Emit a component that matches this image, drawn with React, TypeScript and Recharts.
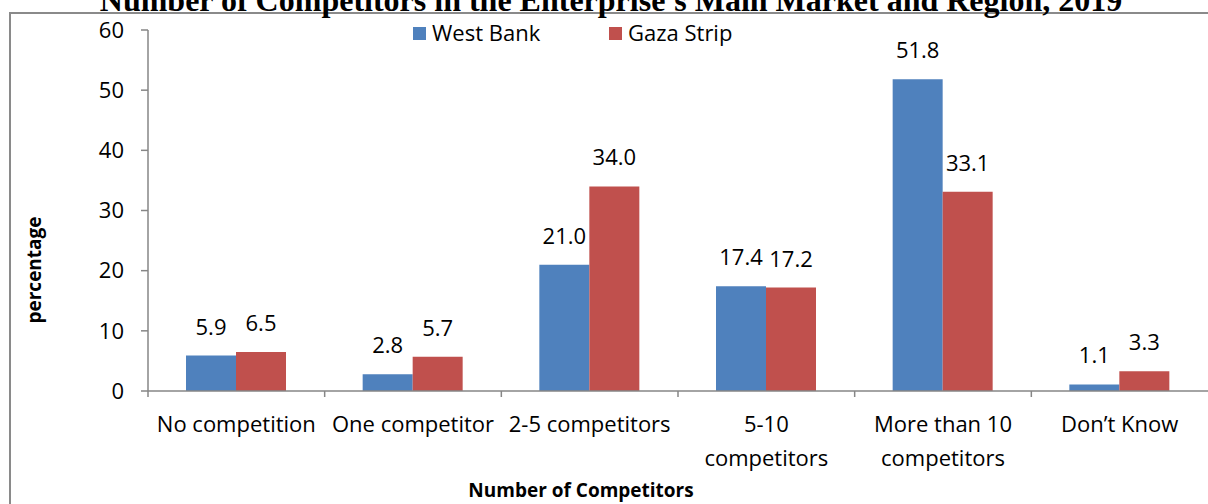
import React from "react";
import {
  BarChart,
  Bar,
  XAxis,
  YAxis,
  LabelList,
} from "recharts";

const categories = [
  "No competition",
  "One competitor",
  "2-5 competitors",
  "5-10\ncompetitors",
  "More than 10\ncompetitors",
  "Don’t Know",
];
const westBank = [5.9, 2.8, 21.0, 17.4, 51.8, 1.1];
const gazaStrip = [6.5, 5.7, 34.0, 17.2, 33.1, 3.3];
const yTicks = [0, 10, 20, 30, 40, 50, 60];

const seriesNames = ["West Bank", "Gaza Strip"];
const seriesColors = ["#4F81BD", "#C0504D"];

const title = "Number of Competitors in the Enterprise's Main Market and Region, 2019";

const data = categories.map((name, i) => ({
  name,
  westBank: westBank[i],
  gazaStrip: gazaStrip[i],
}));

const FONT = "'Open Sans', sans-serif";
const AXIS_GRAY = "#868686";

const CategoryTick = ({ x, y, payload }: any) => {
  const half = payload.offset || 88.33;
  const lines = String(payload.value).split("\n");
  return (
    <g>
      <line x1={x - half} x2={x - half} y1={y - 6} y2={y} stroke={AXIS_GRAY} strokeWidth={1.5} />
      {lines.map((line: string, i: number) => (
        <text
          key={i}
          x={x}
          y={y + 35 + i * 34}
          textAnchor="middle"
          fontFamily={FONT}
          fontSize={22}
          fill="#000"
        >
          {line}
        </text>
      ))}
    </g>
  );
};

export default function App() {
  return (
    <div
      style={{
        position: "absolute",
        left: 0,
        top: 0,
        width: 1208,
        height: 504,
        overflow: "hidden",
        background: "#fff",
      }}
    >
      <div
        style={{
          position: "absolute",
          left: 9,
          top: 12,
          width: 1400,
          height: 700,
          borderLeft: "2px solid #8a8a8a",
          borderTop: "2px solid #8a8a8a",
        }}
      />
      <BarChart
        width={1208}
        height={504}
        data={data}
        margin={{ top: 30, right: 0, bottom: 33, left: 48 }}
        barSize={50}
        barGap={0}
        style={{ position: "absolute", left: 0, top: 0 }}
      >
        <XAxis
          dataKey="name"
          interval={0}
          height={80}
          tickLine={false}
          tickSize={6}
          tickMargin={0}
          axisLine={{ stroke: AXIS_GRAY, strokeWidth: 1.5 }}
          tick={<CategoryTick />}
        />
        <YAxis
          width={100}
          domain={[0, 60]}
          ticks={yTicks}
          tickSize={7}
          tickMargin={17}
          axisLine={{ stroke: AXIS_GRAY, strokeWidth: 1.5 }}
          tickLine={{ stroke: AXIS_GRAY, strokeWidth: 1.5 }}
          tick={{ fill: "#000", fontSize: 22, fontFamily: FONT }}
        />
        <Bar dataKey="westBank" fill={seriesColors[0]} isAnimationActive={false}>
          <LabelList
            dataKey="westBank"
            position="top"
            offset={21}
            formatter={(v: any) => Number(v).toFixed(1)}
            style={{ fill: "#000", fontSize: 22, fontFamily: FONT }}
          />
        </Bar>
        <Bar dataKey="gazaStrip" fill={seriesColors[1]} isAnimationActive={false}>
          <LabelList
            dataKey="gazaStrip"
            position="top"
            offset={21}
            formatter={(v: any) => Number(v).toFixed(1)}
            style={{ fill: "#000", fontSize: 22, fontFamily: FONT }}
          />
        </Bar>
      </BarChart>
      <svg
        width={1208}
        height={504}
        style={{ position: "absolute", left: 0, top: 0, pointerEvents: "none" }}
      >
        <text
          x={611}
          y={11}
          textAnchor="middle"
          fontFamily="'Liberation Serif', serif"
          fontWeight="bold"
          fontSize={32}
          fill="#000"
        >
          {title}
        </text>
        {seriesNames.map((name, i) => (
          <g key={name}>
            <rect x={413 + i * 196} y={27} width={13} height={13} fill={seriesColors[i]} />
            <text x={432 + i * 196} y={41} fontFamily={FONT} fontSize={22} fill="#000">
              {name}
            </text>
          </g>
        ))}
        <text
          x={0}
          y={0}
          transform="translate(41, 270) rotate(-90)"
          textAnchor="middle"
          fontFamily={FONT}
          fontWeight="bold"
          fontSize={19}
          fill="#000"
        >
          percentage
        </text>
        <text
          x={581}
          y={497}
          textAnchor="middle"
          fontFamily={FONT}
          fontWeight="bold"
          fontSize={19}
          fill="#000"
        >
          Number of Competitors
        </text>
      </svg>
    </div>
  );
}
